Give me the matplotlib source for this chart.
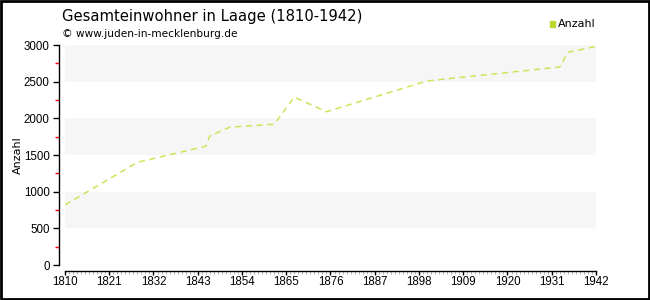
import matplotlib
matplotlib.use("Agg")
import matplotlib.pyplot as plt
from matplotlib.ticker import MultipleLocator
from matplotlib.patches import Rectangle

# tick labels in a narrower face, other texts in DejaVu Sans
plt.rcParams["font.family"] = ["Liberation Sans", "DejaVu Sans"]
text_font = ["DejaVu Sans"]

# data
years = [1810, 1828, 1845, 1846, 1851, 1862, 1867, 1875, 1900, 1933, 1935, 1942]
anzahl = [820, 1400, 1620, 1760, 1880, 1920, 2290, 2090, 2510, 2700, 2900, 2980]
xticks = list(range(1810, 1943, 11))
yticks = list(range(0, 3001, 500))

line_color = "#cfe35a"

fig = plt.figure(figsize=(6.5, 3), dpi=100)
ax = fig.add_axes([65 / 650, 1 - 265 / 300, 531 / 650, 220 / 300])

# alternating background bands
for lo in (500, 1500, 2500):
    ax.axhspan(lo, lo + 500, color="#f6f6f6", zorder=0, lw=0)

ax.plot(years, anzahl, color=line_color, lw=1.1, ls=(0, (4, 3)), zorder=3)

ax.set_xlim(1810, 1942)
ax.set_ylim(0, 3000)
ax.set_xticks(xticks)
ax.set_yticks(yticks)
ax.xaxis.set_minor_locator(MultipleLocator(1))
ax.yaxis.set_minor_locator(MultipleLocator(250))

for s in ("top", "right"):
    ax.spines[s].set_visible(False)
ax.spines["left"].set_position(("outward", 4))
ax.spines["bottom"].set_position(("outward", 4))
ax.spines["left"].set_linewidth(1)
ax.spines["bottom"].set_linewidth(1)

ax.tick_params(axis="y", which="major", length=4, width=1, labelsize=8.3, pad=3)
ax.tick_params(axis="x", which="major", length=3, width=1, labelsize=8.3, pad=1)
ax.tick_params(axis="x", which="minor", length=2, width=0.5, color="#999999")
ax.tick_params(axis="y", which="minor", length=3, width=1, color="red")

fig.text(18 / 650, 1 - 155 / 300, "Anzahl", fontsize=8, rotation=90,
         va="center", ha="center", family=text_font)

fig.text(62 / 650, 1 - 17 / 300, "Gesamteinwohner in Laage (1810-1942)",
         fontsize=10.6, va="center", ha="left", family=text_font)
fig.text(62 / 650, 1 - 34 / 300, "\u00a9 www.juden-in-mecklenburg.de",
         fontsize=7.6, va="center", ha="left", family=text_font)

# legend
fig.patches.append(Rectangle((550 / 650, 1 - 27 / 300), 5 / 650, 6 / 300,
                             transform=fig.transFigure, color="#b9d930"))
fig.text(558 / 650, 1 - 24 / 300, "Anzahl", fontsize=8, va="center", ha="left",
         family=text_font)

# outer frame
fig.patches.append(Rectangle((0.0015, 0.003), 0.997, 0.994, transform=fig.transFigure,
                             fill=False, ec="black", lw=2))

fig.savefig("out.png", dpi=100)
